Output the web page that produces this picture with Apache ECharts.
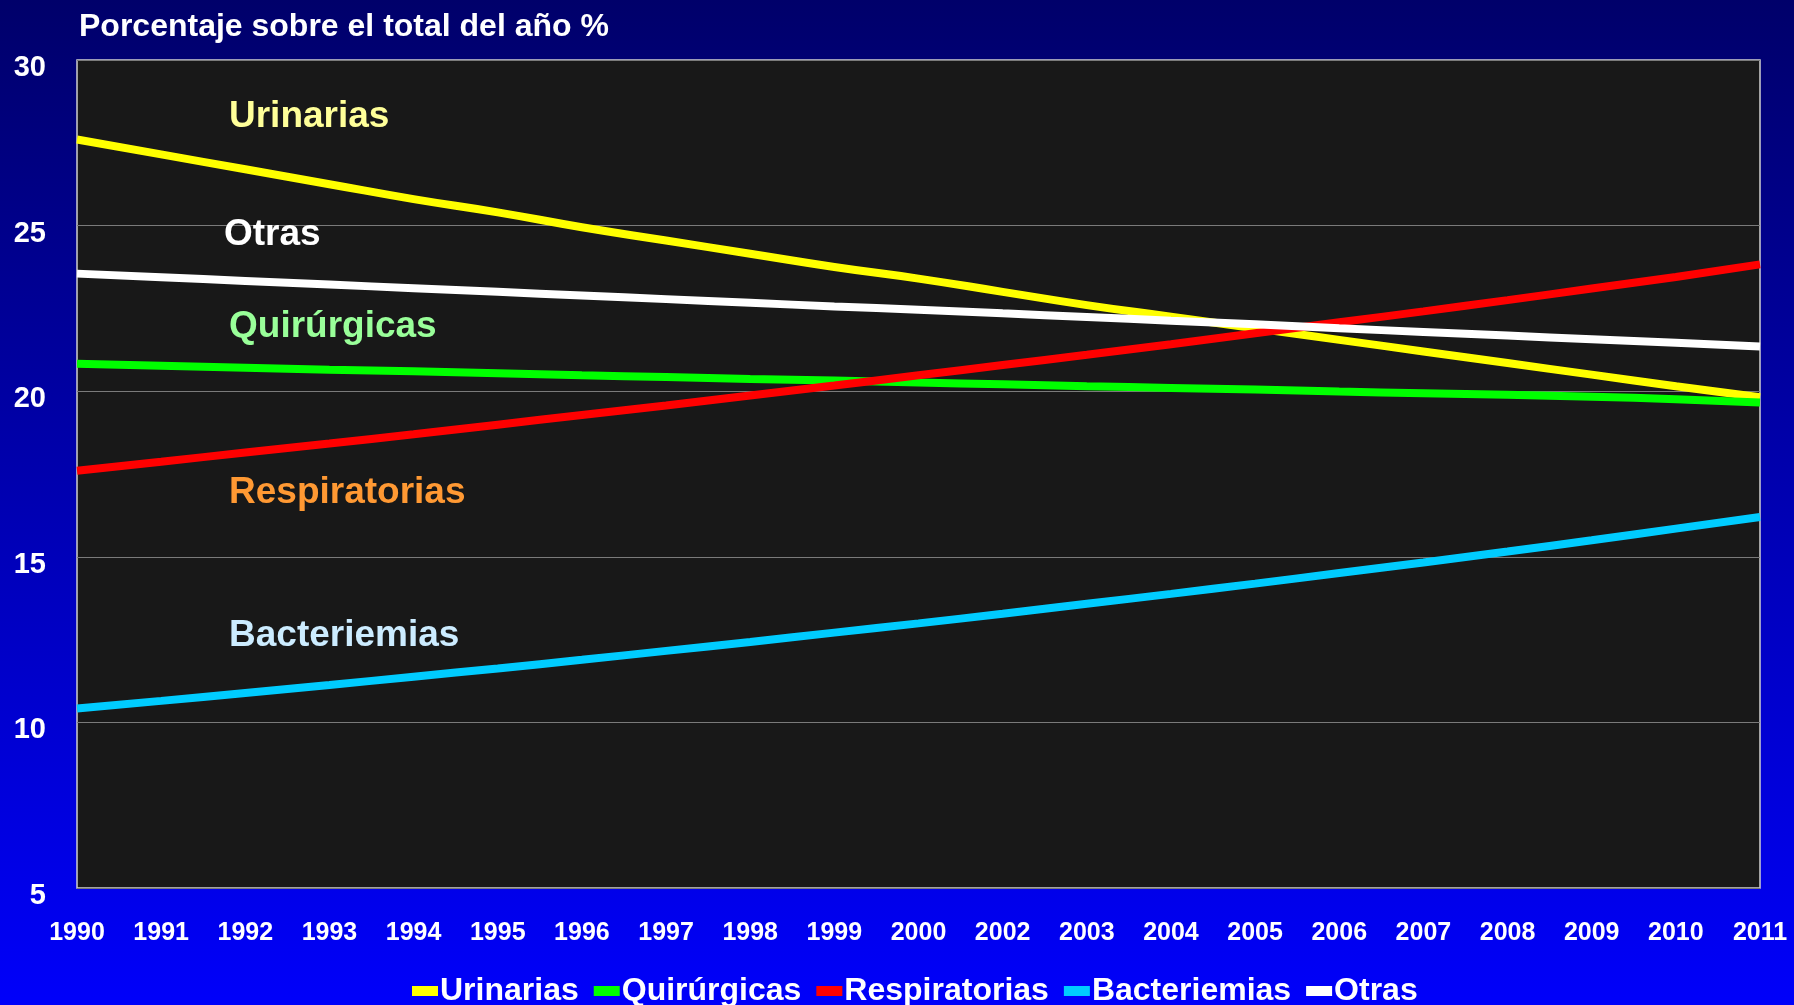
<!DOCTYPE html>
<html>
<head>
<meta charset="utf-8">
<script src="https://cdn.jsdelivr.net/npm/echarts@6/dist/echarts.min.js"></script>
<style>
html,body{margin:0;padding:0;background:#0000b0;}
#c{width:1794px;height:1005px;}
</style>
</head>
<body>
<div id="c"></div>
<script>
const years = ['1990','1991','1992','1993','1994','1995','1996','1997','1998','1999','2000','2002','2003','2004','2005','2006','2007','2008','2009','2010','2011'];
const urinarias = [27.6,27.15,26.7,26.25,25.8,25.4,24.95,24.55,24.15,23.75,23.4,23.0,22.6,22.25,21.9,21.55,21.2,20.85,20.5,20.15,19.82];
const quirurgicas = [20.83,20.77,20.71,20.65,20.6,20.54,20.48,20.43,20.37,20.32,20.26,20.21,20.15,20.1,20.05,19.99,19.94,19.89,19.83,19.76,19.66];
const respiratorias = [17.6,17.87,18.15,18.42,18.7,18.99,19.28,19.57,19.87,20.17,20.48,20.79,21.1,21.42,21.75,22.08,22.41,22.75,23.1,23.45,23.83];
const bacteriemias = [10.42,10.65,10.89,11.13,11.38,11.63,11.89,12.16,12.43,12.71,12.99,13.28,13.58,13.88,14.19,14.51,14.83,15.16,15.5,15.85,16.2];
const otras = [23.55,23.44,23.33,23.22,23.11,23.0,22.89,22.78,22.67,22.56,22.46,22.35,22.24,22.13,22.02,21.9,21.79,21.68,21.57,21.46,21.35];
const seriesNames = ['Urinarias','Quirúrgicas','Respiratorias','Bacteriemias','Otras'];
const yTicks = [5,10,15,20,25,30];
const titleText = 'Porcentaje sobre el total del año %';

const FONT = '"Liberation Sans",Arial,sans-serif';
const shadow = {textShadowColor:'#000000', textShadowOffsetX:2, textShadowOffsetY:2, textShadowBlur:0};
const colors = ['#ffff00','#00ff00','#ff0000','#00ccff','#ffffff'];
const dataArr = [urinarias, quirurgicas, respiratorias, bacteriemias, otras];

const chart = echarts.init(document.getElementById('c'), null, {renderer:'canvas'});
const labels = [
  {text:'Urinarias', x:229, y:114, color:'#ffff99'},
  {text:'Otras', x:224, y:232, color:'#ffffff'},
  {text:'Quirúrgicas', x:229, y:324, color:'#99ff99'},
  {text:'Respiratorias', x:229, y:490, color:'#ff9933'},
  {text:'Bacteriemias', x:229, y:633, color:'#ccecff'}
];
chart.setOption({
  backgroundColor: {type:'linear', x:0, y:0, x2:0, y2:1, colorStops:[{offset:0,color:'#00006a'},{offset:1,color:'#0000fa'}]},
  animation:false,
  grid:{left:77, right:34, top:60, bottom:117, show:true, backgroundColor:'#181818', borderColor:'#cfcfcf', borderWidth:1.5},
  title:{text:titleText, left:74, top:6, textStyle:Object.assign({color:'#ffffff', fontFamily:FONT, fontWeight:'bold', fontSize:32}, shadow)},
  legend:{
    data:seriesNames, left:407, top:970, itemWidth:26, itemHeight:10, itemGap:15, icon:'rect',
    textStyle:Object.assign({color:'#ffffff', fontFamily:FONT, fontWeight:'bold', fontSize:32, padding:[0,0,0,-3]}, shadow)
  },
  xAxis:{
    type:'category', data:years, boundaryGap:false,
    axisLine:{show:false}, axisTick:{show:false}, splitLine:{show:false},
    axisLabel:Object.assign({color:'#ffffff', fontFamily:FONT, fontWeight:'bold', fontSize:25, margin:33, interval:0}, shadow)
  },
  yAxis:{
    type:'value', min:yTicks[0], max:yTicks[yTicks.length-1], interval:5,
    axisLine:{show:false}, axisTick:{show:false},
    splitLine:{show:true, lineStyle:{color:'#7a7a7a', width:1.2}},
    axisLabel:Object.assign({color:'#ffffff', fontFamily:FONT, fontWeight:'bold', fontSize:29, margin:31, verticalAlign:'top', lineHeight:16}, shadow)
  },
  series: seriesNames.map((n,i)=>({
    name:n, type:'line', data:dataArr[i], symbol:'none', smooth:true,
    lineStyle:{color:colors[i], width:8}, itemStyle:{color:colors[i]}
  })),
  graphic: labels.map(l=>({
    type:'text', left:l.x, top:l.y-16, z:100,
    style:{text:l.text, fill:l.color, font:'bold 37px '+FONT, shadowColor:'#000', shadowOffsetX:2, shadowOffsetY:2, shadowBlur:0}
  }))
});
</script>
</body>
</html>
